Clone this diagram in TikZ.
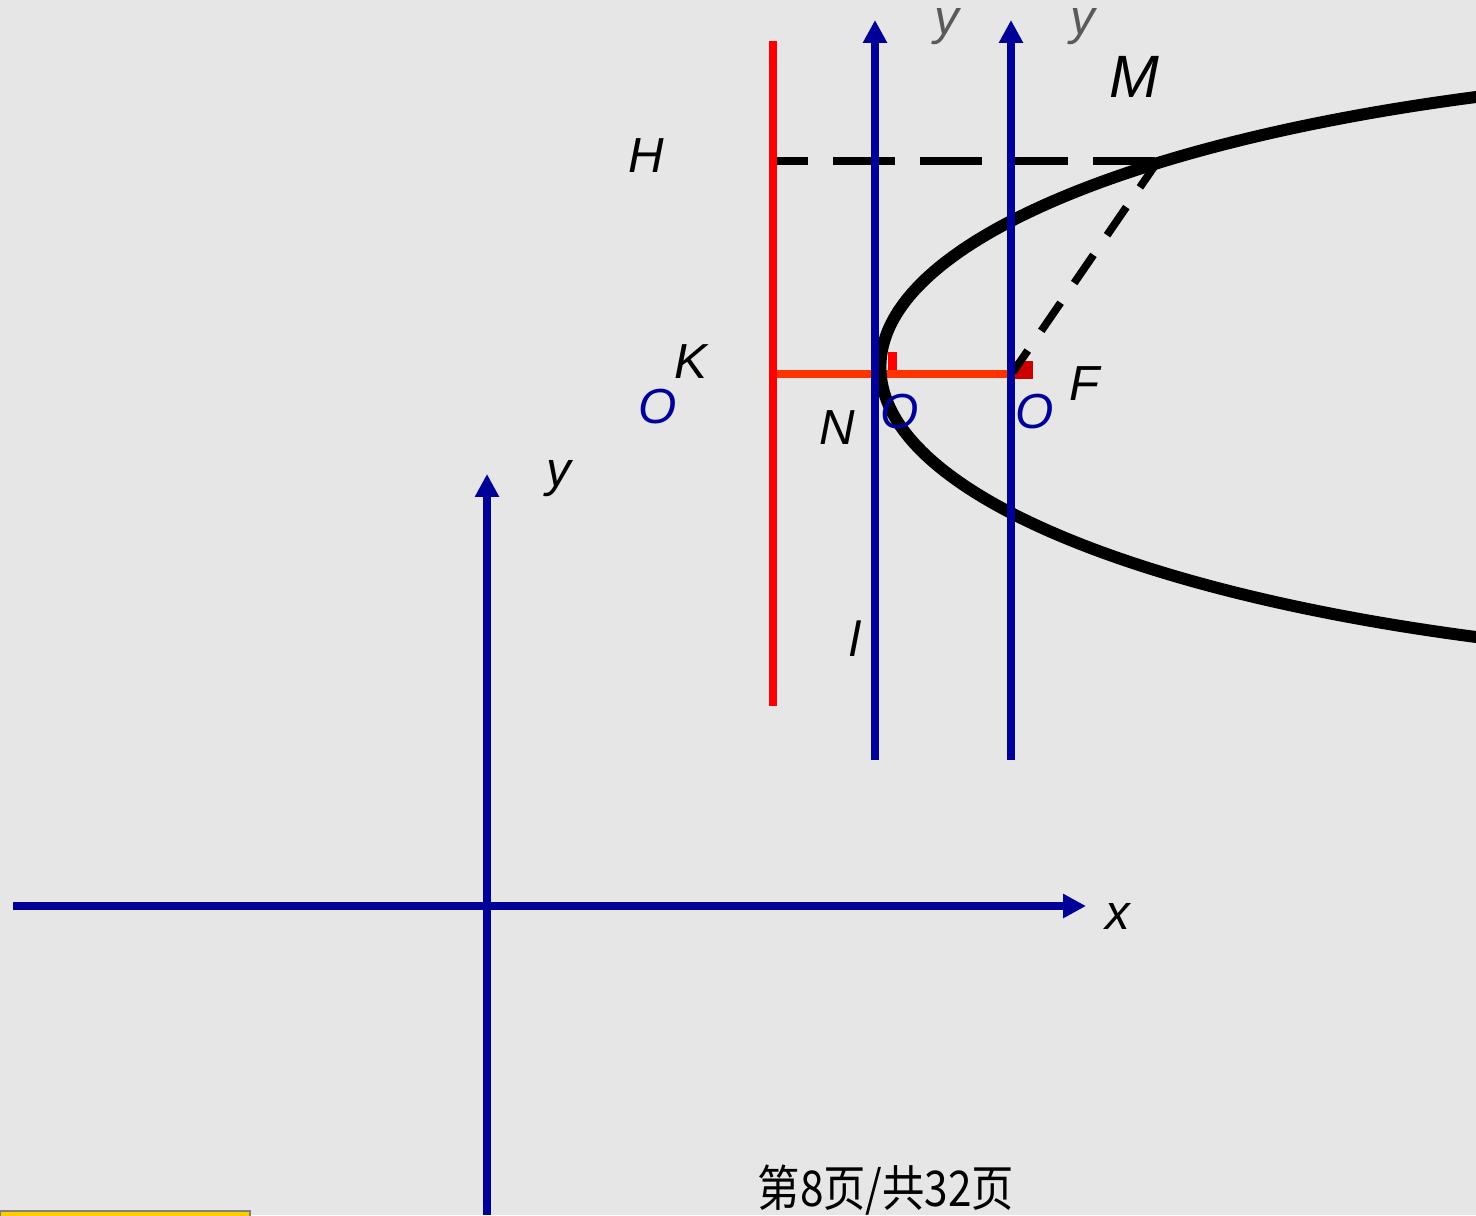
\documentclass[tikz,border=0pt]{standalone}
\usepackage{fontspec}
\setmainfont{Liberation Sans}
\newfontfamily\cjkfont{Noto Sans CJK SC}
\usepackage{xcolor}
\usepackage{graphicx}
\usetikzlibrary{arrows.meta}
\definecolor{FondoGris}{RGB}{230,230,230}
\definecolor{AzulEje}{RGB}{0,0,153}
\definecolor{RojoDirectriz}{RGB}{255,0,0}
\definecolor{NaranjaPerp}{RGB}{255,51,0}
\definecolor{RojoOscuro}{RGB}{204,0,0}
\definecolor{GrisEtiqueta}{RGB}{90,90,90}
\definecolor{AmarilloBarra}{RGB}{255,204,0}

\begin{document}
\begin{tikzpicture}[>={Triangle[length=6.5pt,width=6.5pt]},x=0.01cm,y=-0.01cm,
  eje/.style={->,AzulEje,line width=2.1pt},
  etiqueta/.style={inner sep=0pt,font=\fontsize{14}{16}\selectfont\itshape},
  trazo/.style={black,line width=2.2pt}]
  \fill[FondoGris] (0,0) rectangle (1476,1215);
  \useasboundingbox (0,0) rectangle (1476,1215);
  \coordinate (O) at (487,906);
  \coordinate (K) at (773,374);
  \coordinate (F) at (1011,374);
  \coordinate (H) at (773,161);
  \coordinate (M) at (1158,161);
  \coordinate (C) at (1881,367);
  \draw[NaranjaPerp,line width=2.1pt] (K)--(F);
  \fill[RojoDirectriz] (888,352) rectangle (897,370);
  \fill[RojoOscuro] (1015,361) rectangle (1033,379);
  \draw[black,line width=3.4pt] (C) ellipse [x radius=10cm,y radius=2.95cm];
  \draw[trazo,dash pattern=on 17.6pt off 7.1pt,dash phase=7.7pt] (H)--(M);
  \draw[trazo,dash pattern=on 9.7pt off 6.8pt,dash phase=2.3pt] (1013,372)--(M);
  \draw[RojoDirectriz,line width=2.1pt] (773,41)--(773,706);
  \draw[eje] (13,906)--(1086,906);
  \draw[eje] (487,1215)--(487,474);
  \draw[eje] (875,760)--(875,20);
  \draw[eje] (1011,760)--(1011,20);
  \node[etiqueta] (lblX) at (1118,916) {x};
  \node[etiqueta] (lblY) at (559,479) {y};
  \node[etiqueta,GrisEtiqueta] (lblYa) at (947,27) {y};
  \node[etiqueta,GrisEtiqueta] (lblYb) at (1083,27) {y};
  \node[etiqueta,font=\fontsize{17}{20}\selectfont\itshape] (lblM) at (1134,77) {M};
  \node[etiqueta] (lblH) at (646,156) {H};
  \node[etiqueta] (lblK) at (691,362) {K};
  \node[etiqueta] (lblN) at (837,428) {N};
  \node[etiqueta] (lblF) at (1085,384) {F};
  \node[etiqueta] (lblL) at (855,639) {l};
  \node[etiqueta,AzulEje] (lblOa) at (658,407) {O};
  \node[etiqueta,AzulEje] (lblOb) at (900,412) {O};
  \node[etiqueta,AzulEje] (lblOc) at (1035,412) {O};
  \node[inner sep=0pt,font=\fontsize{14}{16}\selectfont\cjkfont] (pie) at (886,1190) {\scalebox{0.86}[1]{第8页/共32页}};
  \draw[gray,fill=AmarilloBarra,line width=0.6pt] (0,1211) rectangle (250,1220);
\end{tikzpicture}
\end{document}
